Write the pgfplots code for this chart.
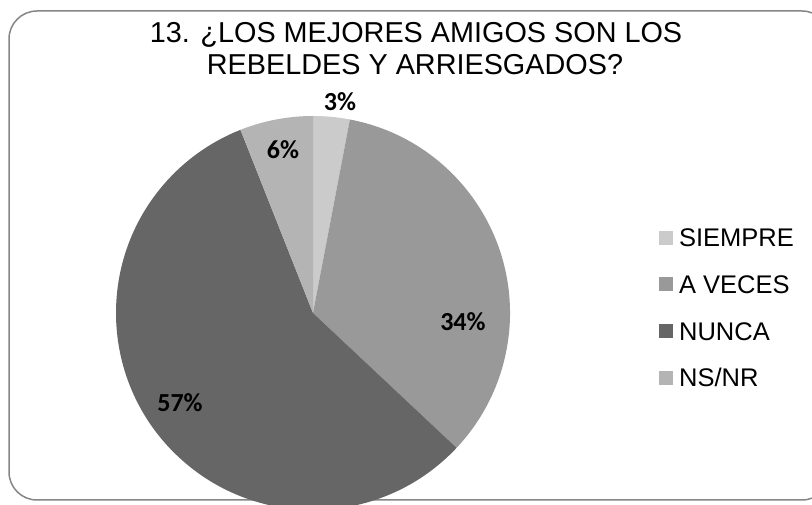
\documentclass[border=0pt]{standalone}
\usepackage{pgfplots}
\pgfplotsset{compat=1.18}
\usepackage{fontspec}
\setmainfont{Liberation Sans}
\newfontfamily\lblfont{Carlito}
\definecolor{cSiempre}{HTML}{CBCBCB}
\definecolor{cAveces}{HTML}{999999}
\definecolor{cNunca}{HTML}{666666}
\definecolor{cNsnr}{HTML}{B4B4B4}
\definecolor{cBorder}{HTML}{868686}
\begin{document}
\begin{tikzpicture}
\useasboundingbox (0pt,0pt) rectangle (812pt,505pt);
\clip (0pt,0pt) rectangle (812pt,505pt);
\fill[white] (0pt,0pt) rectangle (812pt,505pt);
\draw[cBorder, line width=1.5pt, rounded corners=28pt] (9pt,494pt) rectangle (830pt,5pt);
\node[anchor=base, font=\fontsize{28.8}{32}\selectfont] at (416pt,462pt) {13. ¿LOS MEJORES AMIGOS SON LOS};
\node[anchor=base, font=\fontsize{28.8}{32}\selectfont] at (415pt,430pt) {REBELDES Y ARRIESGADOS?};
\begin{axis}[
  x=197pt, y=197pt,
  xmin=-1, xmax=1, ymin=-1, ymax=1,
  hide axis, scale only axis, clip=false,
  anchor=origin, at={(313pt,192pt)},
  legend style={draw=none, fill=none, inner sep=0pt, at={(axis cs:1.756,0.426)}, anchor=north west,
    font=\fontsize{25.5}{28}\selectfont,
    nodes={inner sep=0pt, text height=17.5pt, text depth=5pt},
    row sep=24.2pt,
    /tikz/every odd column/.append style={column sep=6pt}},
  legend cell align=left,
  legend image code/.code={\fill[#1] (0pt,-4pt) rectangle (14pt,10pt);},
]
\addplot[fill=cSiempre, draw=none, data cs=polar] coordinates {(0,0) (90,1)} arc[start angle=90, end angle=79.2, radius=197pt] -- cycle;
\addlegendentry{SIEMPRE}
\addplot[fill=cAveces, draw=none, data cs=polar] coordinates {(0,0) (79.2,1)} arc[start angle=79.2, end angle=-43.2, radius=197pt] -- cycle;
\addlegendentry{A VECES}
\addplot[fill=cNunca, draw=none, data cs=polar] coordinates {(0,0) (-43.2,1)} arc[start angle=-43.2, end angle=-248.4, radius=197pt] -- cycle;
\addlegendentry{NUNCA}
\addplot[fill=cNsnr, draw=none, data cs=polar] coordinates {(0,0) (111.6,1)} arc[start angle=111.6, end angle=90, radius=197pt] -- cycle;
\addlegendentry{NS/NR}
\node[font=\lblfont\bfseries\fontsize{26}{28}\selectfont] at (axis cs:0.137,1.071) {3\%};
\node[font=\lblfont\bfseries\fontsize{26}{28}\selectfont] at (axis cs:-0.152,0.827) {6\%};
\node[font=\lblfont\bfseries\fontsize{26}{28}\selectfont] at (axis cs:0.761,-0.046) {34\%};
\node[font=\lblfont\bfseries\fontsize{26}{28}\selectfont] at (axis cs:-0.675,-0.457) {57\%};
\end{axis}
\end{tikzpicture}
\end{document}
